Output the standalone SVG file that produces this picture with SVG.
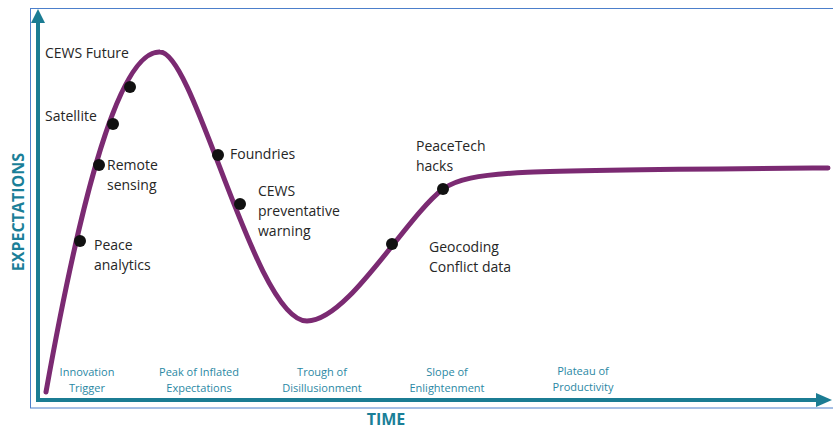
<svg xmlns="http://www.w3.org/2000/svg" width="833" height="430" viewBox="0 0 833 430">
  <style>
    .lbl { font-family: "Open Sans", "Liberation Sans", sans-serif; font-size: 14px; fill: #262626; }
    .phase { font-family: "Open Sans", "Liberation Sans", sans-serif; font-size: 11px; fill: #2a88a4; text-anchor: middle; }
    .axis-title { font-family: "Open Sans", "Liberation Sans", sans-serif; font-size: 16px; font-weight: bold; fill: #1a7f98; }
    .axis { stroke: #1b7c93; stroke-width: 4; fill: none; }
    .curve { stroke: #7b2a72; stroke-width: 5; fill: none; stroke-linecap: round; }
    .dot { fill: #111; }
  </style>

  <rect width="833" height="430" fill="#fff"/>
  <!-- outer frame -->
  <rect x="30.5" y="8.5" width="820" height="399.5" fill="none" stroke="#4c7fcb" stroke-width="1"/>

  <!-- axes -->
  <g id="axes">
    <line class="axis" x1="38" y1="400" x2="38" y2="20"/>
    <polygon points="38,9 31,23 45,23" fill="#1b7c93"/>
    <line class="axis" x1="36" y1="400" x2="818" y2="400"/>
    <polygon points="832,400 816,393 816,407" fill="#1b7c93"/>
  </g>

  <!-- hype curve -->
  <g id="connectors">
    <path class="curve" d="M46,392 C75,230 115,50 160,52 C195,52 255,321 307,321 C348,321 405,218 443,189 C470,170 520,170 828,168"/>
  </g>

  <g id="node-cews-future"><circle class="dot" cx="130" cy="87" r="6"/><text class="lbl" x="45" y="58">CEWS Future</text></g>
  <g id="node-satellite"><circle class="dot" cx="113" cy="124" r="6"/><text class="lbl" x="45" y="121">Satellite</text></g>
  <g id="node-remote-sensing"><circle class="dot" cx="99" cy="165" r="6"/><text class="lbl" x="107" y="170">Remote</text><text class="lbl" x="107" y="190">sensing</text></g>
  <g id="node-peace-analytics"><circle class="dot" cx="80" cy="241" r="6"/><text class="lbl" x="94" y="250">Peace</text><text class="lbl" x="94" y="270">analytics</text></g>
  <g id="node-foundries"><circle class="dot" cx="218" cy="155" r="6"/><text class="lbl" x="230" y="159">Foundries</text></g>
  <g id="node-cews-warning"><circle class="dot" cx="240" cy="204" r="6"/><text class="lbl" x="258" y="196">CEWS</text><text class="lbl" x="258" y="216">preventative</text><text class="lbl" x="258" y="236">warning</text></g>
  <g id="node-geocoding"><circle class="dot" cx="392" cy="244" r="6"/><text class="lbl" x="429" y="252">Geocoding</text><text class="lbl" x="429" y="272">Conflict data</text></g>
  <g id="node-peacetech"><circle class="dot" cx="443" cy="189" r="6"/><text class="lbl" x="416" y="151">PeaceTech</text><text class="lbl" x="416" y="171">hacks</text></g>

  <!-- phase names -->
  <g id="phases">
    <text class="phase" x="87" y="376">Innovation</text><text class="phase" x="87" y="392">Trigger</text>
    <text class="phase" x="199" y="376">Peak of Inflated</text><text class="phase" x="199" y="392">Expectations</text>
    <text class="phase" x="322" y="376">Trough of</text><text class="phase" x="322" y="392">Disillusionment</text>
    <text class="phase" x="447" y="376">Slope of</text><text class="phase" x="447" y="392">Enlightenment</text>
    <text class="phase" x="583" y="375">Plateau of</text><text class="phase" x="583" y="391">Productivity</text>
  </g>

  <text class="axis-title" x="386" y="425" text-anchor="middle">TIME</text>
  <text class="axis-title" transform="translate(24,212) rotate(-90)" text-anchor="middle">EXPECTATIONS</text>
</svg>
